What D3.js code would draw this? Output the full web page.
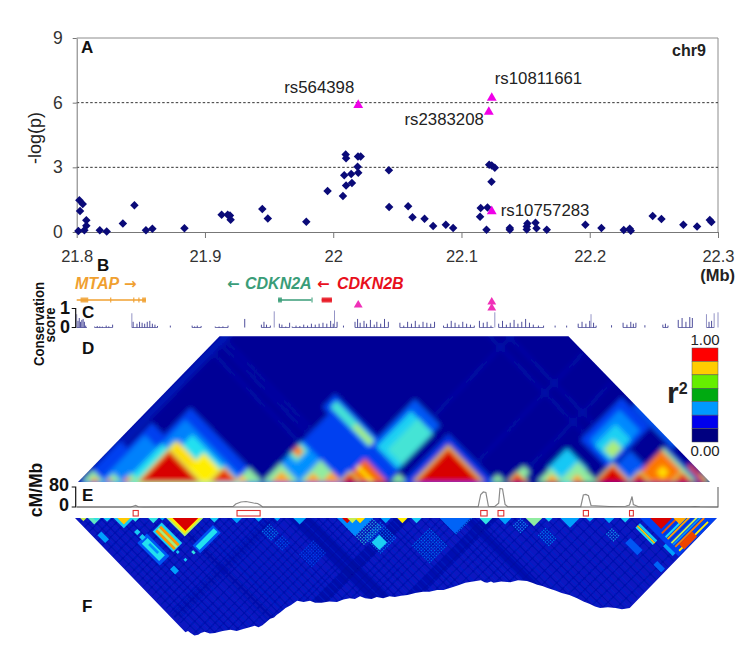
<!DOCTYPE html>
<html>
<head>
<meta charset="utf-8">
<script src="https://cdn.jsdelivr.net/npm/d3@7/dist/d3.min.js"></script>
<style>
  body { margin: 0; background: #fff; }
  text { font-family: "Liberation Sans", Arial, sans-serif; fill: #222; }
  text.panel { font-weight: bold; font-size: 17px; fill: #111; }
  text.tick { fill: #333; }
  text.snpLabel { font-size: 16.8px; fill: #222; }
  text.gene { font-size: 16px; font-weight: bold; font-style: italic; }
  text.arrow { font-family: "DejaVu Sans", sans-serif; font-size: 15px; font-weight: bold; }
  text.side { font-weight: bold; fill: #111; }
</style>
</head>
<body>
<svg id="chart" width="753" height="657"></svg>
<script>
// panel A, -log(p) of the common SNPs: position in Mb and value
const snpMb = [21.8013,21.8021,21.8047,21.8026,21.8075,21.8075,21.806,21.818,21.8234,21.836,21.845,21.854,21.859,21.884,21.913,21.9177,21.9195,21.92,21.9447,21.949,21.979,21.9956,22.0076,22.0097,22.01,22.0086,22.01,22.014,22.0146,22.019,22.0195,22.0193,22.0214,22.0434,22.0436,22.0584,22.0618,22.0712,22.0779,22.0878,22.0935,22.115,22.1203,22.1145,22.1195,22.1216,22.1236,22.126,22.1234,22.1377,22.1377,22.1514,22.1509,22.1509,22.1577,22.1585,22.1665,22.1966,22.2091,22.2265,22.2312,22.232,22.2491,22.2559,22.273,22.2837,22.2936,22.2949]
const snpLogP = [0.05,1.47,1.3,0.97,0.54,0.29,0.08,0.08,0.02,0.39,1.24,0.08,0.15,0.17,0.8,0.8,0.77,0.57,1.07,0.63,0.48,1.9,1.67,3.6,3.42,2.63,2.16,2.69,2.27,3.03,2.75,3.5,3.5,2.86,1.16,1.2,0.68,0.62,0.28,0.34,0.19,1.11,1.14,0.71,0.11,3.12,3.09,2.98,2.33,0.19,0.11,0.39,0.25,0.12,0.43,0.17,0.11,0.34,0.19,0.09,0.15,0.06,0.74,0.6,0.34,0.25,0.56,0.46]

const hitNames = ['rs564398','rs10811661','rs2383208','rs10757283']
const hitMb = [22.0195,22.1236,22.1213,22.1236]
const hitLogP = [5.89,6.22,5.57,0.96]

const xTicks = [21.8,21.9,22,22.1,22.2,22.3]
const yTicks = [0,3,6,9]
const yGrid = [3,6]

// panel B, genes in kb from the start of the window (21.8 Mb)
const mtapSpan = [0,54]
const mtapExons = [[3,9],[26,27],[44,45],[48,49],[51,54]]
const cdkn2aSpan = [157,183]
const cdkn2aExons = [[157,160],[183,183.6]]
const cdkn2bSpan = [191,199]

// panel C, conservation score
const consKb = [0,1,2,3,4,5,6,7,14,16,18,20,23,25,28,43,44,47,49,51,53,55,57,59,61,63,73,90,92,94,97,108,111,114,118,131,144,146,148,151,154,158,160,163,166,168,171,174,177,180,183,186,189,192,195,198,200,201,203,208,217,219,221,224,226,229,232,234,237,240,243,252,255,258,261,264,267,270,273,276,279,286,289,292,295,298,301,304,307,310,314,317,320,323,326,329,332,335,338,341,344,347,350,353,356,360,364,373,382,391,394,397,400,401,403,405,417,426,429,432,434,436,443,457,459,461,469,472,475,478,480,491,493,495,497,500]
const consScore = [0.7,0.35,0.5,0.3,0.4,0.45,0.3,0.1,0.05,0.08,0.06,0.05,0.1,0.06,0.15,0.75,0.3,0.2,0.3,0.25,0.2,0.3,0.35,0.2,0.15,0.08,0.1,0.1,0.06,0.1,0.08,0.05,0.05,0.06,0.1,0.45,0.15,0.3,0.15,0.1,0.85,0.2,0.15,0.05,0.25,0.05,0.1,0.08,0.15,0.1,0.2,0.15,0.2,0.25,0.2,0.35,0.2,0.9,0.3,0.1,0.3,0.45,0.25,0.35,0.2,0.4,0.15,0.3,0.2,0.45,0.3,0.25,0.1,0.3,0.2,0.35,0.15,0.3,0.25,0.2,0.3,0.1,0.2,0.35,0.25,0.15,0.3,0.2,0.15,0.1,0.35,0.25,0.3,0.1,0.8,0.2,0.35,0.15,0.25,0.4,0.2,0.3,0.45,0.25,0.15,0.1,0.1,0.1,0.1,0.2,0.3,0.2,0.35,0.7,0.25,0.1,0.12,0.25,0.15,0.3,0.2,0.25,0.12,0.15,0.2,0.1,0.4,0.5,0.3,0.55,0.5,0.7,0.3,0.35,0.75,0.8]
const consRuns = [[0,8],[14,28],[43,63],[90,97],[108,118],[144,151],[158,166],[168,203],[217,243],[252,279],[286,310],[314,325],[329,364],[391,405],[426,436],[457,461],[469,480],[491,497]]

// panel E, recombination rate
const recombKb = [0,42,44,46,48,52,118,122,124,128,132,138,141,143,145,250,313,315,317,319,321,326,329,330,332,334,336,393,395,397,399,401,415,428,431,433,434,438,478,482,486,500]
const recombRate = [0,0,3,6,1,0,2,2,12,20,22,16,14,8,0,1,1,50,60,58,3,2,15,74,72,10,1,1,48,50,45,6,2,3,8,42,10,1,1,2,1,0]
const hotspots = [[44,48],[125,143],[315,320],[328.5,333],[395,399],[431,434]]
const recombTicks = [0,80]

// r2 key
const keyColors = ['#ff0000','#ffcc00','#66ee00','#00aa11','#0099ff','#0000ee','#000080']

// LD blocks as [a start, a end, b start, b end, r2], a and b are the two
// marker positions in kb. Later ones are painted over earlier ones.
const ldBlocksD = [
  [0,9,0,300,0.08],[2,146,2,65,0.17],[13,146,65,104,0.17],[32,146,104,146,0.17],
  [17,146,17,89,0.26],[37,146,89,133,0.26],[37,146,37,96,0.38],[54,146,96,127,0.38],
  [45,146,45,108,0.5],
  [146,211,146,255,0.17],[146,175,175,209,0.28],[146,158,188,206,0.45],[146,155,193,202,0.85],
  [136,211,251,271,0.17],[142,203,257,267,0.42],[175,203,259,265,0.55],[211,245,245,263,0.17],
  [203,243,263,330,0.2],[209,243,263,318,0.36],[220,243,270,318,0.42],
  [256,330,256,330,0.15],
  [361,393,381,413,0.35],
  [365,410,430,495,0.17],[373,405,437,484,0.27],[381,405,437,470,0.36],[391,405,441,456,0.55],
  [381,445,496,503,0.2],[413,437,437,461,0.2]
]
const ldPeaksD = [
  [3,21,0.5],[21,35,0.5],[35,49,0.5],[9,17,0.8],[22,28,0.85],[35,43,0.85],
  [47,110,0.72],[77,122,0.7],[49,95,1],[106,125,0.95],[124,146,0.5],[124,135,0.75],
  [146,175,0.5],[175,209,0.5],[153,169,0.8],[179,193,0.8],[193,209,0.8],
  [209,245,0.88],[209,221,1],[247,260,0.5],
  [264,322,0.88],[268,318,1],
  [326,338,0.5],[342,354,0.95],
  [363,385,0.5],[380,411,0.5],[369,381,0.8],[389,401,0.8],
  [411,435,1],
  [437,486,0.86],[438,450,1],[472,486,0.95],
  [486,500,0.5],[488,494,0.9],[494,499,0.6]
]
const ldOverD = [
  [209,233,231,235,0.7],[340,350,355,365,0.5],[450,460,465,475,0.72],
  [437,484,486,490,0.5],[437,490,490,494,0.12],[470,495,494,498,0.9]
]
const ldFaintB = [205,218,225,437,452]
const ldFaintA = [230,300,345]
const ldMaxSepD = 224

// lower edge of panel F: mid position and widest marker separation reached
const ldDepthKb = [0,86,88,90,93,96,98,101,105,109,115,121,126,131,136,140,143,146,149,152,155,157,160,164,168,173,178,183,187,192,198,204,209,214,218,222,226,231,235,240,245,249,254,259,265,271,276,282,287,292,298,304,310,316,319,321,324,326,332,339,345,352,356,360,364,368,374,379,385,391,396,401,405,409,415,421,426,432,500]
const ldDepthSep = [0,178,176,179,183,182,179,177,180,179,176,174,176,173,170,168,170,167,162,157,155,151,147,140,136,129,131,129,132,132,130,131,127,125,126,122,125,126,123,125,122,123,121,120,117,115,115,112,112,109,105,101,99,97,100,101,99,101,99,100,97,98,101,104,106,109,113,117,120,125,130,134,138,140,139,140,142,140,0]

const ldBandsF = [[165,185,0,500,0.03],[0,500,250,262,0.03],[0,500,318,330,0.04],[300,312,0,500,0.04],[70,80,0,500,0.06],[0,500,150,160,0.06]]
const ldBlocksF = [
  [29,44,68,103,0.2],[32,41,72,99,0.38],[36,39,78,92,0.28],
  [50,64,71,103,0.36],[55,58,73,102,0.55],[52,55,73,102,0.82],[58,61,73,102,0.82],
  [70,102,113,125,0.2],[72,100,116,122,0.38],
  [35,40,57,62,0.35],[35,40,65,70,0.35],[4,10,31,43,0.3],[34,40,114,122,0.3],
  [52,55,105,108,0.35],[64,67,117,121,0.4],[52,55,117,120,0.35],
  [212,224,250,262,0.36],[409,417,448,467,0.2],[414,420,487,499,0.22],
  [429,431,444,471,0.38],[431,433,444,471,0.75],[433,436,444,471,0.35],[436,445,480,495,0.3],
  [440,500,440,500,0.17],
  [445,490,468,470,0.9],[445,490,471,472.5,0.15],[445,490,474,476,0.38],[445,490,477,479,0.8],[445,490,480,481.5,0.15],
  [445,490,483,485,0.6],[445,490,486,487.5,0.3],[445,490,489,491,0.85],[445,490,492,493,0.2],[445,490,495,497,0.7],
  [450,470,491,499,0.92]
]
const ldPeaksF = [
  [4,9,0.6],[10,20,0.45],[14,19,0.4],[22,28,0.35],[30,46,0.35],[33,43,0.75],[44,50,0.4],[57,65,0.4],[66,70,0.3],[71,100,0.55],[73,98,0.7],[76,96,1],
  [105,112,0.35],[122,130,0.3],[140,146,0.3],[155,160,0.3],[170,180,0.3],
  [204,232,0.27],[208,216,1],[218,226,0.72],[212,220,0.6],
  [238,246,0.3],[251,259,0.7],[262,270,0.35],[284,308,0.22],[315,325,0.4],[330,340,0.3],[351,364,0.5],[366,372,0.35],[378,393,0.3],
  [398,404,0.3],[412,420,0.3],[425,432,0.35],[448,465,1],[466,476,0.8]
]
const ldLatticeF = [
  [204,232,216,246,0.4],[210,234,241,265,0.28],[241,269,284,312,0.27],[146,167,203,222,0.2],[284,308,290,310,0.3],
  [335,347,347,358,0.32],[347,358,374,390,0.3],[401,411,426,437,0.35],
  [135,148,156,171,0.3],[136,148,175,187,0.22]
]
const ldStripesF = [5,12,19,27,33,40,48,57,66,75,84,90,97,104,111,118,125,132,139,145,152,161,171,180,188,195,203,210,218,227,236,241,247,257,268,275,283,289,296,305,315,324,334,341,349,357,366,375,385,394,404,413,423,432,441,450,459,468,478,489]

const svg = d3.select('#chart')

const xA = d3.scaleLinear().domain([21.8,22.3]).range([76.7,718])
const yA = d3.scaleLinear().domain([0,9]).range([232,38])
const xTrack = d3.scaleLinear().domain([0,500]).range([76.7,718])
const xD = d3.scaleLinear().domain([0,500]).range([78,710])
const xF = d3.scaleLinear().domain([0,500]).range([75,717])
const yRecomb = d3.scaleLinear().domain([0,80]).range([507,487])
const yCons = d3.scaleLinear().domain([0,1]).range([327.5,308.5])

const ldColor = d3.scaleLinear()
  .domain([0,0.1,0.17,0.28,0.38,0.5,0.7,0.85,1])
  .range(['#00008c','#0818c0','#0040f0','#0090ff','#20e0f0','#90eca0','#ffee00','#ff8000','#d80000'])

/* ---- panel A ---- */
const a = svg.append('g')

a.append('path')
  .attr('d', `M${xA(21.8)} ${yA(9)}H${xA(22.3)}V${yA(0)}`)
  .attr('fill', 'none').attr('stroke', '#8c8c8c')

a.selectAll('line.grid').data(yGrid).enter().append('line')
  .attr('class', 'grid')
  .attr('x1', xA(21.8)).attr('x2', xA(22.3))
  .attr('y1', d => yA(d)).attr('y2', d => yA(d))
  .attr('stroke', '#333').attr('stroke-dasharray', '2.5,2')

const xAxis = a.append('g').attr('transform', `translate(0,${yA(0)})`)
  .call(d3.axisBottom(xA).tickValues(xTicks).tickSize(6).tickFormat(d3.format('~g')).tickSizeOuter(0))
const yAxis = a.append('g').attr('transform', `translate(${xA(21.8)},0)`)
  .call(d3.axisLeft(yA).tickValues(yTicks).tickSize(4).tickFormat(d3.format('d')).tickSizeOuter(0))
xAxis.selectAll('path,line').attr('stroke', '#777')
yAxis.selectAll('path,line').attr('stroke', '#777')
xAxis.selectAll('text').attr('class', 'tick').attr('y', 18).attr('dy', '0.71em').style('font-size', '16.5px')
yAxis.selectAll('text').attr('class', 'tick').attr('x', -14).style('font-size', '17.5px')

const diamond = d3.symbol().type(d3.symbolDiamond2).size(46)
a.selectAll('path.snp').data(snpMb).enter().append('path')
  .attr('class', 'snp')
  .attr('d', diamond)
  .attr('fill', '#0a0a78')
  .attr('transform', (d, i) => `translate(${xA(d)},${yA(snpLogP[i])})`)

const triangle = d3.symbol().type(d3.symbolTriangle).size(42)
a.selectAll('path.hit').data(hitMb).enter().append('path')
  .attr('class', 'hit')
  .attr('d', triangle)
  .attr('fill', '#f000e8')
  .attr('transform', (d, i) => `translate(${xA(d)},${yA(hitLogP[i])})`)

const hitLabelDx = [-4,3,-5,9]
const hitLabelDy = [-12,-14,13,5]
const hitLabelAnchor = ['end','start','end','start']
a.selectAll('text.snpLabel').data(hitNames).enter().append('text')
  .attr('class', 'snpLabel')
  .attr('x', (d, i) => xA(hitMb[i]) + hitLabelDx[i])
  .attr('y', (d, i) => yA(hitLogP[i]) + hitLabelDy[i])
  .attr('text-anchor', (d, i) => hitLabelAnchor[i])
  .text(d => d)

a.append('text').attr('x', 689).attr('y', 56).attr('text-anchor', 'middle')
  .style('font-weight', 'bold').style('font-size', '16px').text('chr9')
a.append('text').attr('transform', 'translate(41,138) rotate(-90)').attr('text-anchor', 'middle')
  .style('font-size', '18px').text('-log(p)')
a.append('text').attr('x', 735).attr('y', 281).attr('text-anchor', 'end')
  .style('font-weight', 'bold').style('font-size', '16.5px').text('(Mb)')

/* ---- panel B ---- */
const geneY = 300
const genes = [
  { label: 'MTAP', x: 75, color: '#f0a030', span: mtapSpan, exons: mtapExons },
  { label: 'CDKN2A', x: 245, color: '#3a9d78', span: cdkn2aSpan, exons: cdkn2aExons },
  { label: 'CDKN2B', x: 337, color: '#e8101c', span: cdkn2bSpan, exons: [cdkn2bSpan] }
]
for (let gene of genes) {
  svg.append('text').attr('class', 'gene').attr('x', gene.x).attr('y', 289)
    .style('fill', gene.color).text(gene.label)
  svg.append('line')
    .attr('x1', xTrack(gene.span[0])).attr('x2', xTrack(gene.span[1]))
    .attr('y1', geneY).attr('y2', geneY)
    .attr('stroke', gene.color).attr('stroke-width', 1.3)
  svg.selectAll(null).data(gene.exons).enter().append('rect')
    .attr('x', d => xTrack(d[0]))
    .attr('width', d => Math.max(1.2, xTrack(d[1]) - xTrack(d[0])))
    .attr('y', geneY - 2.5).attr('height', 5)
    .attr('fill', gene.color).attr('opacity', 0.85)
}
svg.append('text').attr('class', 'arrow').attr('x', 124).attr('y', 289).style('fill', '#f0a030').text('→')
svg.append('text').attr('class', 'arrow').attr('x', 227).attr('y', 289).style('fill', '#3a9d78').text('←')
svg.append('text').attr('class', 'arrow').attr('x', 317).attr('y', 289).style('fill', '#e8101c').text('←')

/* ---- panel C ---- */
svg.selectAll('line.run').data(consRuns).enter().append('line')
  .attr('class', 'run')
  .attr('x1', d => xTrack(d[0])).attr('x2', d => xTrack(d[1]))
  .attr('y1', yCons(0)).attr('y2', yCons(0))
  .attr('stroke', '#3a3a90').attr('stroke-width', 1).attr('opacity', 0.7)
svg.selectAll('line.cons').data(consKb).enter().append('line')
  .attr('class', 'cons')
  .attr('x1', d => xTrack(d)).attr('x2', d => xTrack(d))
  .attr('y1', yCons(0)).attr('y2', (d, i) => yCons(consScore[i]))
  .attr('stroke', (d, i) => consScore[i] > 0.6 ? '#8888c0' : '#3a3a90')
  .attr('stroke-width', 0.9)
svg.append('path')
  .attr('d', `M${xTrack(0) - 5} ${yCons(1)}H${xTrack(0) - 1}V${yCons(0)}H${xTrack(0) - 5}`)
  .attr('fill', 'none').attr('stroke', '#111').attr('stroke-width', 1.2)
const trackHits = [0, 1, 3]
const trackHitY = [305, 302, 308]
svg.selectAll('path.trackHit').data(trackHits).enter().append('path')
  .attr('class', 'trackHit')
  .attr('d', d3.symbol().type(d3.symbolTriangle).size(34))
  .attr('fill', '#f030b8')
  .attr('transform', (d, i) => `translate(${xA(hitMb[d])},${trackHitY[i]})`)
svg.append('text').attr('class', 'side').attr('x', 70).attr('y', 314).attr('text-anchor', 'end').style('font-size', '18px').text('1')
svg.append('text').attr('class', 'side').attr('x', 70).attr('y', 333).attr('text-anchor', 'end').style('font-size', '18px').text('0')
svg.append('text').attr('class', 'side').attr('transform', 'translate(44,324) rotate(-90) scale(0.85,1)')
  .attr('text-anchor', 'middle').style('font-size', '15.5px').text('Conservation')
svg.append('text').attr('class', 'side').attr('transform', 'translate(55,325) rotate(-90) scale(0.85,1)')
  .attr('text-anchor', 'middle').style('font-size', '15.5px').text('score')

/* ---- LD triangles ---- */
const defs = svg.append('defs')
const addBlur = (id, sd) => defs.append('filter').attr('id', id)
  .attr('filterUnits', 'userSpaceOnUse').attr('x', 0).attr('y', 0).attr('width', 753).attr('height', 657)
  .append('feGaussianBlur').attr('stdDeviation', sd)
addBlur('blurD', 2.6)
addBlur('blurF', 0.7)

// corners of a block in the rotated matrix
function ldPoint(x, base, dir, k) {
  return (pa, pb) => [(x(pa) + x(pb)) / 2, base + dir * k * (x(pb) - x(pa)) / 2]
}
function blockPath(p, b) {
  return d3.line()([p(b[0], b[2]), p(b[0], b[3]), p(b[1], b[3]), p(b[1], b[2])]) + 'Z'
}
function peakPath(p, s) {
  return d3.line()([p(s[0], s[0]), p(s[0], s[1]), p(s[1], s[1])]) + 'Z'
}

// panel D
const pD = ldPoint(xD, 482, -1, 1.03)
defs.append('clipPath').attr('id', 'clipD').append('path')
  .attr('d', d3.line()([pD(0, 0), pD(0, ldMaxSepD), pD(500 - ldMaxSepD, 500), pD(500, 500)]) + 'Z')
const gD = svg.append('g').attr('clip-path', 'url(#clipD)').append('g').attr('filter', 'url(#blurD)')

gD.append('path').attr('d', blockPath(pD, [-20, 520, -20, 520])).attr('fill', ldColor(0.02))
gD.selectAll('path.fb').data(ldFaintB).enter().append('path')
  .attr('d', d => blockPath(pD, [0, 500, d, d + 1.5])).attr('fill', ldColor(0.1))
gD.selectAll('path.fa').data(ldFaintA).enter().append('path')
  .attr('d', d => blockPath(pD, [d, d + 1.5, 0, 500])).attr('fill', ldColor(0.1))
gD.selectAll('path.block').data(ldBlocksD).enter().append('path')
  .attr('d', d => blockPath(pD, d)).attr('fill', d => ldColor(d[4]))
for (let s of ldPeaksD) {
  if (s[2] >= 0.9) {
    gD.append('path').attr('d', peakPath(pD, [s[0] - 3, s[1] + 3])).attr('fill', ldColor(0.55))
    gD.append('path').attr('d', peakPath(pD, [s[0] - 1.5, s[1] + 1.5])).attr('fill', ldColor(0.85))
  }
  gD.append('path').attr('d', peakPath(pD, s)).attr('fill', ldColor(s[2]))
}
gD.selectAll('path.over').data(ldOverD).enter().append('path')
  .attr('d', d => blockPath(pD, d)).attr('fill', d => ldColor(d[4]))

/* ---- panel E ---- */
svg.append('path')
  .datum(recombKb)
  .attr('d', d3.line().x(d => xTrack(d)).y((d, i) => yRecomb(recombRate[i])))
  .attr('fill', 'none').attr('stroke', '#8a8a8a').attr('stroke-width', 1.2)
svg.append('path')
  .attr('d', `M${xTrack(0)} ${yRecomb(0)}H${xTrack(500)}V${yRecomb(80)}`)
  .attr('fill', 'none').attr('stroke', '#666').attr('stroke-width', 1.1)
svg.append('path')
  .attr('d', `M${xTrack(0) - 5} ${yRecomb(80)}H${xTrack(0) - 1}V${yRecomb(0)}H${xTrack(0) - 5}`)
  .attr('fill', 'none').attr('stroke', '#111').attr('stroke-width', 1.2)
svg.selectAll('text.rt').data(recombTicks).enter().append('text')
  .attr('class', 'side rt').attr('x', 69).attr('y', d => yRecomb(d) + 4)
  .attr('text-anchor', 'end').style('font-size', '18px').text(d => d)
svg.selectAll('rect.hotspot').data(hotspots).enter().append('rect')
  .attr('class', 'hotspot')
  .attr('x', d => xTrack(d[0])).attr('width', d => xTrack(d[1]) - xTrack(d[0]))
  .attr('y', 510.5).attr('height', 5.5)
  .attr('fill', '#fff').attr('stroke', '#e03030').attr('stroke-width', 1.1)
svg.append('text').attr('class', 'side').attr('transform', 'translate(42,490) rotate(-90)')
  .attr('text-anchor', 'middle').style('font-size', '17.5px').text('cM/Mb')

/* ---- panel F ---- */
const pF = ldPoint(xF, 518, 1, 1)
const outlineF = ldDepthKb.map((m, i) => pF(m - ldDepthSep[i] / 2, m + ldDepthSep[i] / 2))
defs.append('clipPath').attr('id', 'clipF').append('path').attr('d', d3.line()(outlineF) + 'Z')
const gF = svg.append('g').attr('clip-path', 'url(#clipF)').append('g').attr('filter', 'url(#blurF)')

gF.append('path').attr('d', blockPath(pF, [-20, 520, -20, 520])).attr('fill', ldColor(0.1))
gF.selectAll('path.band').data(ldBandsF).enter().append('path')
  .attr('d', d => blockPath(pF, d)).attr('fill', d => ldColor(d[4])).attr('opacity', 0.5)
for (let s of ldStripesF) {
  gF.append('path').attr('d', blockPath(pF, [s, s + 1.4, 0, 500])).attr('fill', ldColor(0.01)).attr('opacity', 0.28)
  gF.append('path').attr('d', blockPath(pF, [0, 500, s + 2, s + 3.4])).attr('fill', ldColor(0.01)).attr('opacity', 0.28)
  gF.append('path').attr('d', blockPath(pF, [s + 4, s + 5, 0, 500])).attr('fill', ldColor(0.15)).attr('opacity', 0.3)
}
for (let l of ldLatticeF) {
  for (let u of d3.range(l[0], l[1], 2.6)) {
    for (let v of d3.range(l[2], l[3], 2.6)) {
      gF.append('path').attr('d', blockPath(pF, [u, u + 1.4, v, v + 1.4])).attr('fill', ldColor(l[4])).attr('opacity', 0.75)
    }
  }
}
gF.selectAll('path.over').data(ldBlocksF).enter().append('path')
  .attr('d', d => blockPath(pF, d)).attr('fill', d => ldColor(d[4]))
gF.selectAll('path.peak').data(ldPeaksF).enter().append('path')
  .attr('d', d => peakPath(pF, d)).attr('fill', d => ldColor(d[2]))

/* ---- r2 key ---- */
const yKey = d3.scaleBand().domain(keyColors).range([348, 442])
svg.selectAll('rect.key').data(keyColors).enter().append('rect')
  .attr('class', 'key').attr('x', 692).attr('width', 26)
  .attr('y', d => yKey(d)).attr('height', yKey.bandwidth())
  .attr('fill', d => d).attr('stroke', '#555').attr('stroke-width', 0.5)
svg.append('text').attr('x', 705).attr('y', 345).attr('text-anchor', 'middle').style('font-size', '15px').text('1.00')
svg.append('text').attr('x', 705).attr('y', 456).attr('text-anchor', 'middle').style('font-size', '15px').text('0.00')
const r2 = svg.append('text').attr('x', 667).attr('y', 403).style('font-size', '30px').style('font-weight', 'bold').text('r')
r2.append('tspan').attr('dy', -9).style('font-size', '16px').text('2')

/* ---- panel letters ---- */
const letters = ['A','B','C','D','E','F']
const letterX = [81,97,82,82,82,82]
const letterY = [53,271,318,354,501,612]
svg.selectAll('text.panel').data(letters).enter().append('text')
  .attr('class', 'panel')
  .attr('x', (d, i) => letterX[i]).attr('y', (d, i) => letterY[i])
  .text(d => d)
</script>
</body>
</html>
